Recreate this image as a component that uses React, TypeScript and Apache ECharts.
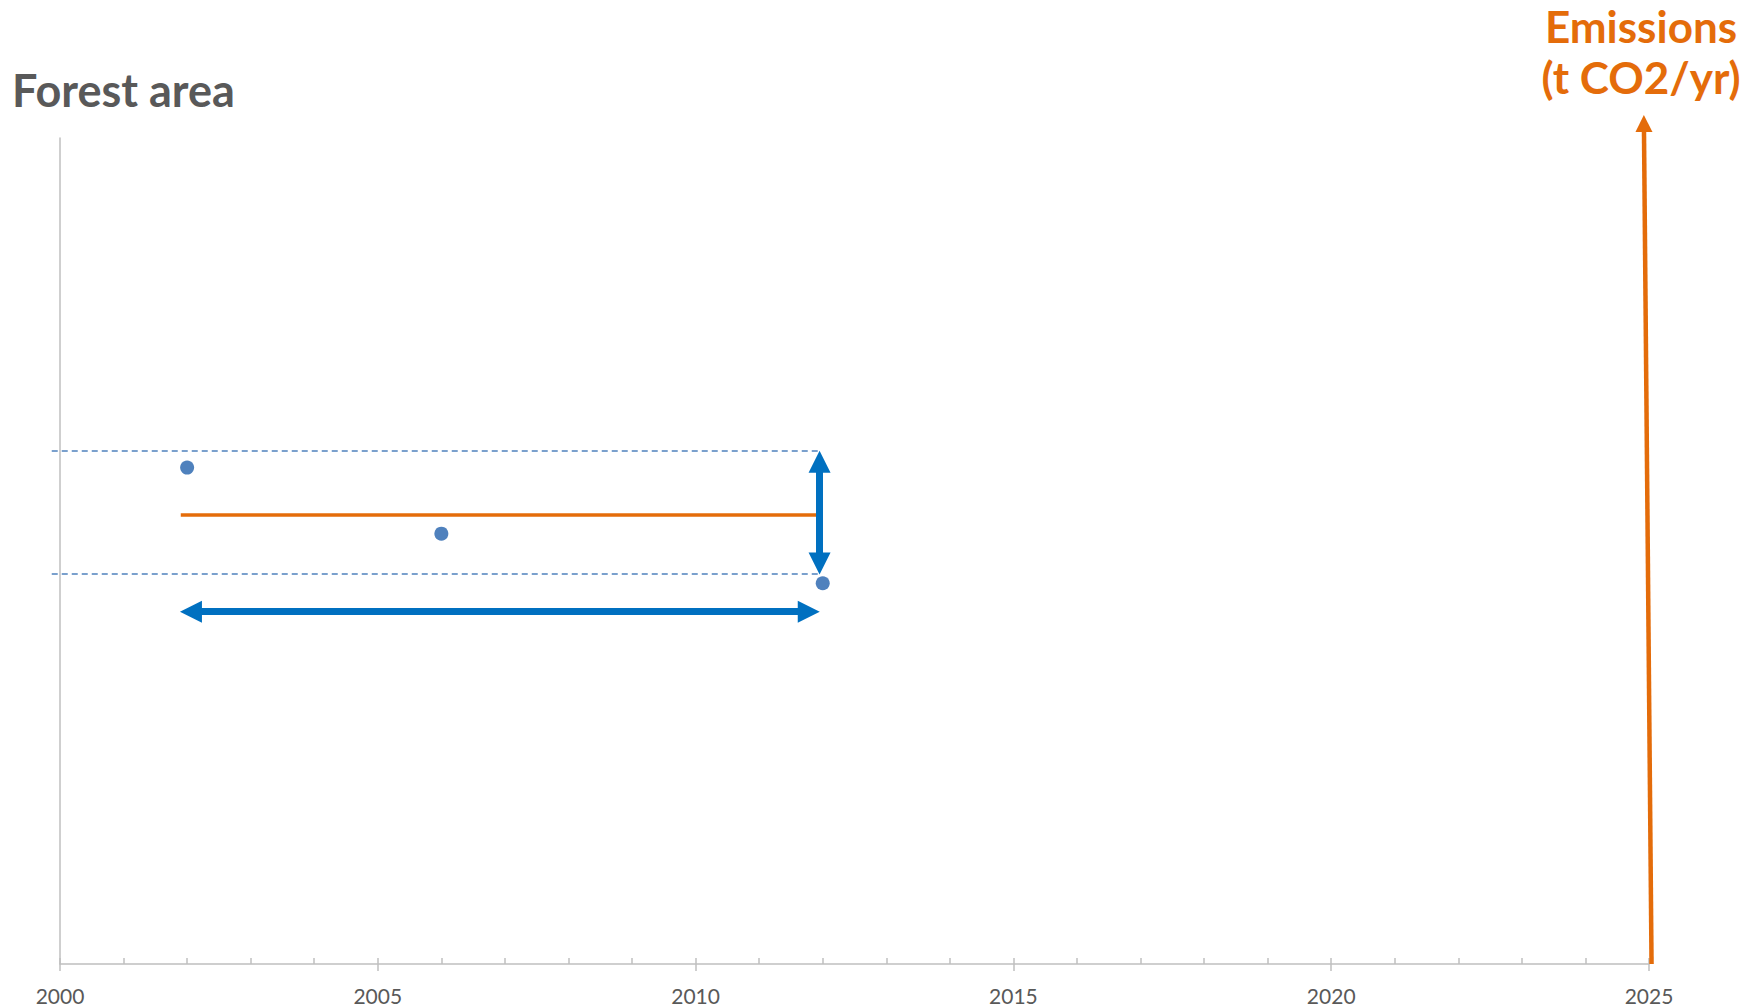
import React, { useEffect, useRef } from "react";
import * as echarts from "echarts";

// ---- data ----
const xMin = 2000;
const xMax = 2025;
const xStep = 5;
const yMin = 0;
const yMax = 100;

const surveyYears = [2002, 2006, 2012];
const forestArea = [60.1, 52.1, 46.1];

const meanLine = [
  [2001.9, 54.4],
  [2011.9, 54.4],
];
const upperBound = [
  [1999.87, 62.1],
  [2011.95, 62.1],
];
const lowerBound = [
  [1999.87, 47.2],
  [2011.95, 47.2],
];
const periodArrow = [
  [2002.06, 42.65],
  [2011.78, 42.65],
];
const rangeArrow = [
  [2011.95, 60.8],
  [2011.95, 48.5],
];
const emissionsArrow = [
  [2025.04, 0],
  [2024.92, 101.75],
];

const titleLeft = "Forest area";
const titleRight1 = "Emissions";
const titleRight2 = "(t CO2/yr)";

const GREY = "#595959";
const AXIS = "#BFBFBF";
const BLUE_PT = "#4F81BD";
const BLUE_ARROW = "#0070C0";
const ORANGE = "#E46C0A";
const FONT = "Lato, 'Open Sans', sans-serif";

export default function App() {
  const ref = useRef<HTMLDivElement>(null);

  useEffect(() => {
    if (!ref.current) return;
    document.body.style.margin = "0";
    const chart = echarts.init(ref.current, undefined, { renderer: "svg" });

    const option: any = {
      animation: false,
      backgroundColor: "#ffffff",
      grid: { left: 60, right: 111, top: 138, bottom: 44, containLabel: false },
      xAxis: [
        {
          type: "value",
          min: xMin,
          max: xMax,
          interval: xStep,
          position: "bottom",
          axisLine: { show: true, lineStyle: { color: AXIS, width: 1.5 } },
          axisTick: { show: true, inside: true, length: 6, lineStyle: { color: AXIS, width: 1.5 } },
          minorTick: { show: true, splitNumber: 5, length: 6, lineStyle: { color: AXIS, width: 1.5 } },
          axisLabel: {
            show: true,
            color: GREY,
            fontSize: 21,
            fontFamily: FONT,
            margin: 21,
            showMinLabel: true,
            showMaxLabel: true,
            formatter: (v: number) => String(v),
          },
          splitLine: { show: false },
          minorSplitLine: { show: false },
        },
        {
          type: "value",
          min: xMin,
          max: xMax,
          interval: xStep,
          position: "bottom",
          axisLine: { show: false },
          axisTick: { show: true, inside: false, length: 7, lineStyle: { color: AXIS, width: 1.5 } },
          axisLabel: { show: false },
          splitLine: { show: false },
        },
      ],
      yAxis: {
        type: "value",
        min: yMin,
        max: yMax,
        axisLine: { show: true, lineStyle: { color: AXIS, width: 1.5 } },
        axisTick: { show: false },
        axisLabel: { show: false },
        splitLine: { show: false },
      },
      series: [
        {
          type: "lines",
          coordinateSystem: "cartesian2d",
          xAxisIndex: 0,
          yAxisIndex: 0,
          clip: false,
          silent: true,
          symbol: ["none", "none"],
          lineStyle: { color: BLUE_PT, width: 1.6, type: [6, 4], opacity: 1 },
          data: [{ coords: upperBound }, { coords: lowerBound }],
          z: 2,
        },
        {
          type: "lines",
          coordinateSystem: "cartesian2d",
          xAxisIndex: 0,
          yAxisIndex: 0,
          clip: false,
          silent: true,
          symbol: ["none", "none"],
          lineStyle: { color: ORANGE, width: 3.5, opacity: 1 },
          data: [{ coords: meanLine }],
          z: 3,
        },
        {
          type: "lines",
          coordinateSystem: "cartesian2d",
          xAxisIndex: 0,
          yAxisIndex: 0,
          clip: false,
          silent: true,
          symbol: ["triangle", "triangle"],
          symbolSize: [22, 22],
          lineStyle: { color: BLUE_ARROW, width: 7, opacity: 1 },
          itemStyle: { color: BLUE_ARROW },
          data: [{ coords: periodArrow }, { coords: rangeArrow }],
          z: 4,
        },
        {
          type: "lines",
          coordinateSystem: "cartesian2d",
          xAxisIndex: 0,
          yAxisIndex: 0,
          clip: false,
          silent: true,
          symbol: ["none", "triangle"],
          symbolSize: [16, 17],
          lineStyle: { color: ORANGE, width: 4.5, opacity: 1 },
          data: [{ coords: emissionsArrow }],
          z: 4,
        },
        {
          type: "scatter",
          xAxisIndex: 0,
          yAxisIndex: 0,
          symbol: "circle",
          symbolSize: 14,
          itemStyle: { color: BLUE_PT, opacity: 1 },
          silent: true,
          data: surveyYears.map((y, i) => [y, forestArea[i]]),
          z: 5,
        },
      ],
      graphic: [
        {
          type: "text",
          x: 12,
          y: 90,
          style: {
            text: titleLeft,
            fill: GREY,
            fontSize: 45,
            fontWeight: "bold",
            fontFamily: FONT,
            align: "left",
            verticalAlign: "middle",
          },
        },
        {
          type: "text",
          x: 1641,
          y: 26,
          style: {
            text: titleRight1,
            fill: ORANGE,
            fontSize: 44,
            fontWeight: "bold",
            fontFamily: FONT,
            align: "center",
            verticalAlign: "middle",
          },
        },
        {
          type: "text",
          x: 1641,
          y: 77,
          style: {
            text: titleRight2,
            fill: ORANGE,
            fontSize: 44,
            fontWeight: "bold",
            fontFamily: FONT,
            align: "center",
            verticalAlign: "middle",
          },
        },
      ],
    };

    chart.setOption(option);
    return () => chart.dispose();
  }, []);

  return (
    <div
      ref={ref}
      style={{ position: "fixed", left: 0, top: 0, width: 1760, height: 1008 }}
    />
  );
}
